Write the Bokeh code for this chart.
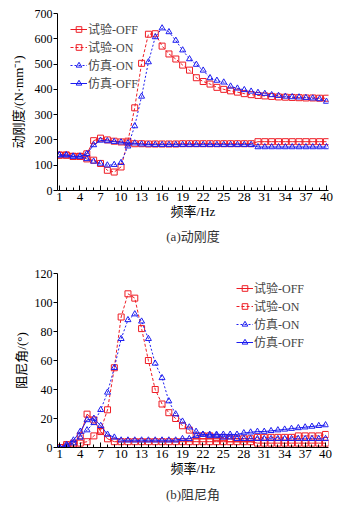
from bokeh.plotting import figure
from bokeh.models import Range1d, FixedTicker, Legend, LegendItem, Title
from bokeh.layouts import column
from bokeh.embed import file_html
from bokeh.resources import INLINE

freq = list(range(1, 41))

# (a) dynamic stiffness, N/mm
stiff_test_off = [140, 140, 135, 135, 145, 197, 207, 200, 195, 192, 188, 185, 185, 184, 184, 184, 184, 184, 185, 185,
                  185, 185, 185, 185, 185, 185, 185, 185, 185, 193, 193, 193, 193, 193, 193, 193, 193, 193, 193, 193]
stiff_test_on = [140, 140, 135, 135, 125, 120, 107, 80, 73, 93, 195, 327, 503, 618, 620, 571, 540, 520, 496, 476,
                 446, 431, 421, 408, 400, 394, 389, 383, 379, 376, 374, 372, 370, 369, 368, 367, 366, 366, 365, 365]
stiff_sim_on = [140, 140, 135, 135, 125, 115, 107, 100, 102, 110, 175, 255, 372, 508, 607, 642, 627, 593, 555, 520,
                498, 475, 445, 435, 428, 412, 404, 398, 392, 387, 383, 378, 375, 372, 370, 369, 367, 365, 362, 352]
stiff_sim_off = [140, 140, 135, 135, 145, 180, 198, 196, 193, 191, 187, 187, 183, 182, 181, 181, 181, 181, 181, 181,
                 181, 181, 181, 181, 181, 181, 181, 181, 181, 172, 172, 172, 172, 172, 172, 172, 172, 172, 172, 172]

# (b) damping angle, degrees
damp_test_off = [0, 2, 3, 8, 23, 19, 11, 6, 4, 4, 4, 4, 4, 4, 4, 4, 4, 4, 4, 4,
                 4, 4, 4, 4, 4, 4, 4, 4, 4, 3, 3, 3, 3, 3, 3, 3, 3, 3, 3, 3]
damp_test_on = [0, 1, 2, 3, 4, 8, 12, 26, 55, 90, 106, 103, 82, 60, 40, 30, 24, 20, 15, 12,
                8, 8, 8, 7, 7, 6, 6, 6, 6, 7, 7, 7, 7, 7, 7, 8, 8, 8, 8, 9]
damp_sim_on = [0, 1, 3, 7, 12, 17, 26, 38, 55, 75, 88, 92, 87, 75, 58, 48, 32, 23, 18, 14,
               11, 9, 8, 8, 7, 7, 6, 6, 6, 6, 6, 6, 6, 6, 6, 6, 6, 6, 6, 6]
damp_sim_off = [0, 2, 5, 11, 19, 20, 15, 9, 7, 5, 5, 5, 5, 5, 5, 5, 5, 5, 6, 6,
                8, 9, 9, 9, 9, 9, 9, 10, 10.5, 11, 11, 11.5, 12, 12.5, 13, 13.5, 14, 14.5, 15, 15.5]

labels = ["试验-OFF", "试验-ON", "仿真-ON", "仿真-OFF"]
x_major = list(range(1, 41, 3))
RED = "#ee1c24"
BLUE = "#1c1cf0"
SERIF = "'Liberation Serif', 'Noto Sans CJK SC', serif"


def style(p, yticks, ylabel, ylabel_standoff):
    p.xgrid.visible = False
    p.ygrid.visible = False
    p.outline_line_color = None
    p.xaxis.ticker = FixedTicker(ticks=x_major, minor_ticks=freq)
    p.xaxis.major_tick_in = 5
    p.xaxis.major_tick_out = 0
    p.xaxis.minor_tick_in = 3
    p.xaxis.minor_tick_out = 0
    p.yaxis.ticker = FixedTicker(ticks=yticks)
    p.yaxis.major_tick_in = 0
    p.yaxis.major_tick_out = 4
    p.yaxis.minor_tick_line_color = None
    for ax in (p.xaxis, p.yaxis):
        ax.axis_line_color = "black"
        ax.major_tick_line_color = "black"
        ax.major_label_text_font = SERIF
        ax.major_label_text_color = "black"
        ax.axis_label_text_font = SERIF
        ax.axis_label_text_font_size = "13px"
        ax.axis_label_text_font_style = "normal"
        ax.axis_label_text_color = "black"
    p.xaxis.major_label_text_font_size = "13px"
    p.yaxis.major_label_text_font_size = "12px"
    p.xaxis.major_label_standoff = 2
    p.xaxis.axis_label_standoff = 0
    p.yaxis.major_label_standoff = 1
    p.yaxis.axis_label_standoff = ylabel_standoff
    p.xaxis.axis_label = "频率/Hz"
    p.yaxis.axis_label = ylabel


def add_series(p, series, msize):
    items = []
    specs = [
        (series[0], RED, "solid", "square"),
        (series[1], RED, "3 2", "square"),
        (series[2], BLUE, "2 2", "triangle"),
        (series[3], BLUE, "solid", "triangle"),
    ]
    for (ys, col, dash, mk), lab in zip(specs, labels):
        r1 = p.line(freq, ys, line_color=col, line_width=1, line_dash=dash)
        r2 = p.scatter(freq, ys, marker=mk, size=msize, line_color=col, fill_color=None, line_width=1)
        items.append(LegendItem(label=lab, renderers=[r1, r2]))
    return items


def make_legend(items, loc):
    lg = Legend(items=items, location=loc, padding=0, margin=0, spacing=0,
                glyph_width=17, glyph_height=14, label_height=14,
                label_text_font=SERIF, label_text_font_size="12px",
                label_standoff=1, border_line_color=None, background_fill_alpha=0)
    return lg


# ---- (a)
p1 = figure(width=355, height=248, x_range=Range1d(0.72, 40.3), y_range=Range1d(0, 700),
            output_backend="svg", toolbar_location=None,
            min_border_left=57, min_border_right=17, min_border_top=13, min_border_bottom=58)
style(p1, list(range(0, 701, 100)), "动刚度/(N·mm⁻¹)", 6)
items1 = add_series(p1, [stiff_test_off, stiff_test_on, stiff_sim_on, stiff_sim_off], 6)
p1.add_layout(make_legend(items1, (13, 98)))
p1.add_layout(Title(text="(a)动刚度", align="center", text_font=SERIF, text_font_size="13px",
                    text_font_style="normal", text_color="#333333"), "below")

# ---- (b)
p2 = figure(width=355, height=259, x_range=Range1d(0.66, 40.43), y_range=Range1d(0, 120),
            output_backend="svg", toolbar_location=None,
            min_border_left=49, min_border_right=27, min_border_top=25, min_border_bottom=60)
style(p2, list(range(0, 121, 20)), "阻尼角/(°)", 3)
items2 = add_series(p2, [damp_test_off, damp_test_on, damp_sim_on, damp_sim_off], 6)
p2.add_layout(make_legend(items2, (179, 96)))
p2.add_layout(Title(text="(b)阻尼角", align="center", text_font=SERIF, text_font_size="13px",
                    text_font_style="normal", text_color="#333333", offset=0, standoff=12), "below")

page = column(p1, p2, spacing=0)
open("out.html", "w").write(file_html(page, INLINE))
